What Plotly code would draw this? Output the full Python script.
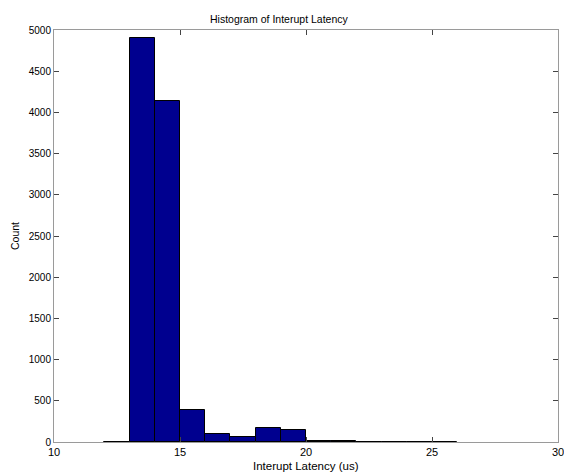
import plotly.graph_objects as go

bin_left = [12, 13, 14, 15, 16, 17, 18, 19, 20, 21, 22, 23, 24, 25]
counts = [2, 4900, 4135, 390, 97, 62, 172, 148, 18, 7, 3, 2, 1, 1]
x_ticks = [10, 15, 20, 25, 30]
y_ticks = [0, 500, 1000, 1500, 2000, 2500, 3000, 3500, 4000, 4500, 5000]

centers = [b + 0.5 for b in bin_left]

fig = go.Figure(go.Bar(
    x=centers, y=counts, width=1.0,
    marker=dict(color="#00008F", line=dict(color="black", width=1)),
))

FAM = "Liberation Sans, Arial, sans-serif"
axis_common = dict(
    showline=True, linecolor="#9a9a9a", linewidth=1, mirror="ticks",
    ticks="inside", ticklen=5, tickcolor="#444", showgrid=False, zeroline=False,
)
# page body has an 8px default margin, so the figure is 8px smaller
fig.update_layout(
    width=564, height=465,
    margin=dict(l=46, r=8, t=22, b=31),
    paper_bgcolor="white", plot_bgcolor="white",
    font=dict(family=FAM, size=11, color="black"), showlegend=False, bargap=0,
    xaxis=dict(range=[10, 30], tickvals=x_ticks,
               tickfont=dict(family=FAM, size=11, color="black"), **axis_common),
    yaxis=dict(range=[0, 5000], tickvals=y_ticks,
               tickfont=dict(family=FAM, size=10, color="black"), **axis_common),
    annotations=[
        dict(text="Histogram of Interupt Latency", xref="paper", yref="paper",
             x=0.447, y=1, yshift=3, xanchor="center", yanchor="bottom",
             showarrow=False, font=dict(size=10.5)),
        dict(text="Interupt Latency (us)", xref="paper", yref="paper",
             x=0.5, y=0, yshift=-16, xanchor="center", yanchor="top",
             showarrow=False, font=dict(size=11.5)),
        dict(text="Count", xref="paper", yref="paper", textangle=-90,
             x=0, xshift=-39, y=0.5, xanchor="center", yanchor="middle",
             showarrow=False, font=dict(size=10.5)),
    ],
)
fig.write_html("out.html")
